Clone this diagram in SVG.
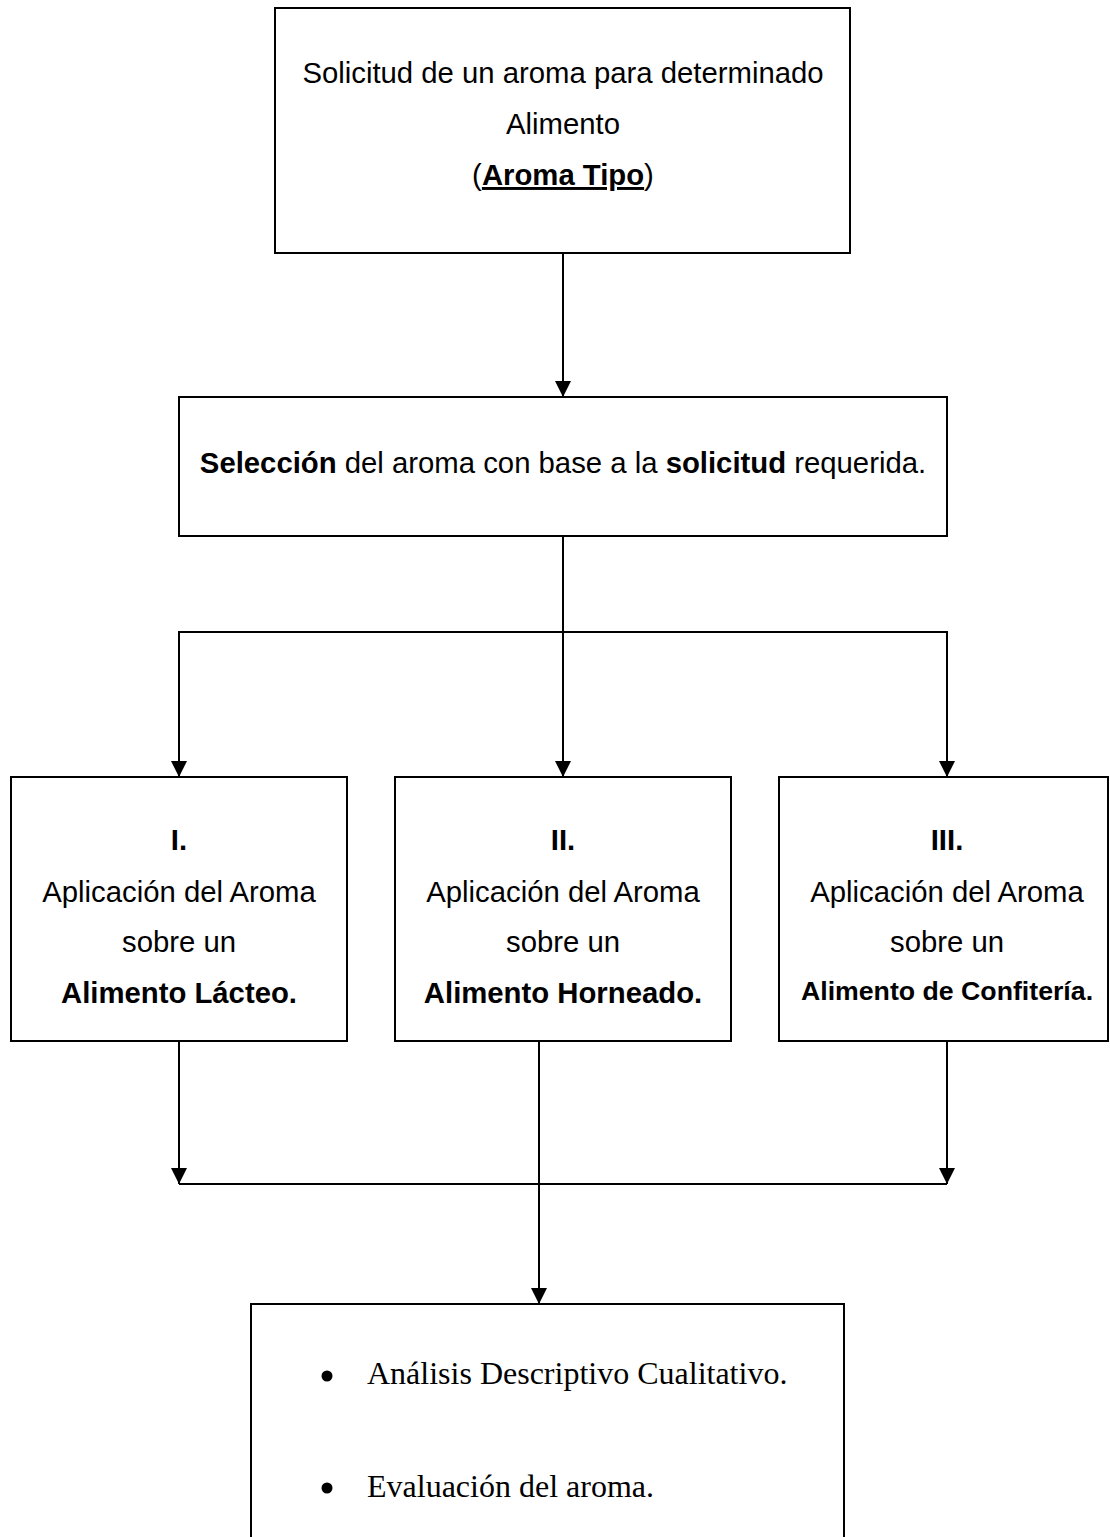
<svg xmlns="http://www.w3.org/2000/svg" width="1110" height="1537" viewBox="0 0 1110 1537">
  <style>
    .box { fill: #ffffff; stroke: #000000; stroke-width: 2; }
    .wire { fill: none; stroke: #000000; stroke-width: 2; }
    .sans { font-family: "Liberation Sans", Arial, sans-serif; font-size: 29.3px; fill: #000000; text-anchor: middle; }
    .b { font-weight: bold; }
    .small { font-size: 26.7px; }
    .serif { font-family: "Liberation Serif", "Times New Roman", serif; font-size: 32px; fill: #000000; }
  </style>
  <defs>
    <marker id="arrow" markerWidth="16" markerHeight="16" refX="16" refY="8" orient="auto" markerUnits="userSpaceOnUse">
      <path d="M0,0 L16,8 L0,16 Z" fill="#000000"/>
    </marker>
  </defs>

  <rect width="1110" height="1537" fill="#ffffff"/>

  <!-- connectors -->
  <g id="connectors">
    <line class="wire" x1="563" y1="253" x2="563" y2="397" marker-end="url(#arrow)"/>
    <line class="wire" x1="563" y1="536" x2="563" y2="632"/>
    <line class="wire" x1="178" y1="632" x2="948" y2="632"/>
    <line class="wire" x1="179" y1="632" x2="179" y2="777" marker-end="url(#arrow)"/>
    <line class="wire" x1="563" y1="632" x2="563" y2="777" marker-end="url(#arrow)"/>
    <line class="wire" x1="947" y1="632" x2="947" y2="777" marker-end="url(#arrow)"/>
    <line class="wire" x1="179" y1="1041" x2="179" y2="1184" marker-end="url(#arrow)"/>
    <line class="wire" x1="947" y1="1041" x2="947" y2="1184" marker-end="url(#arrow)"/>
    <line class="wire" x1="179" y1="1184" x2="947" y2="1184"/>
    <line class="wire" x1="539" y1="1041" x2="539" y2="1304" marker-end="url(#arrow)"/>
  </g>

  <!-- request -->
  <g id="solicitud">
    <rect class="box" x="275" y="8" width="575" height="245"/>
    <text class="sans" x="563" y="83">Solicitud de un aroma para determinado</text>
    <text class="sans" x="563" y="134">Alimento</text>
    <text class="sans" x="563" y="185">(<tspan class="b" text-decoration="underline">Aroma Tipo</tspan>)</text>
  </g>

  <!-- selection -->
  <g id="seleccion">
    <rect class="box" x="179" y="397" width="768" height="139"/>
    <text class="sans" x="563" y="473"><tspan class="b">Selección</tspan> del aroma con base a la <tspan class="b">solicitud</tspan> requerida.</text>
  </g>

  <!-- application I -->
  <g id="lacteo">
    <rect class="box" x="11" y="777" width="336" height="264"/>
    <text class="sans b" x="179" y="850">I.</text>
    <text class="sans" x="179" y="902">Aplicación del Aroma</text>
    <text class="sans" x="179" y="952">sobre un</text>
    <text class="sans b" x="179" y="1003">Alimento Lácteo.</text>
  </g>

  <!-- application II -->
  <g id="horneado">
    <rect class="box" x="395" y="777" width="336" height="264"/>
    <text class="sans b" x="563" y="850">II.</text>
    <text class="sans" x="563" y="902">Aplicación del Aroma</text>
    <text class="sans" x="563" y="952">sobre un</text>
    <text class="sans b" x="563" y="1003">Alimento Horneado.</text>
  </g>

  <!-- application III -->
  <g id="confiteria">
    <rect class="box" x="779" y="777" width="329" height="264"/>
    <text class="sans b" x="947" y="850">III.</text>
    <text class="sans" x="947" y="902">Aplicación del Aroma</text>
    <text class="sans" x="947" y="952">sobre un</text>
    <text class="sans b small" x="947" y="1000">Alimento de Confitería.</text>
  </g>

  <!-- evaluation -->
  <g id="evaluacion">
    <rect class="box" x="251" y="1304" width="593" height="250"/>
    <circle cx="327" cy="1376" r="5.5" fill="#000000"/>
    <text class="serif" x="367" y="1384">Análisis Descriptivo Cualitativo.</text>
    <circle cx="327" cy="1488" r="5.5" fill="#000000"/>
    <text class="serif" x="367" y="1497">Evaluación del aroma.</text>
  </g>
</svg>
